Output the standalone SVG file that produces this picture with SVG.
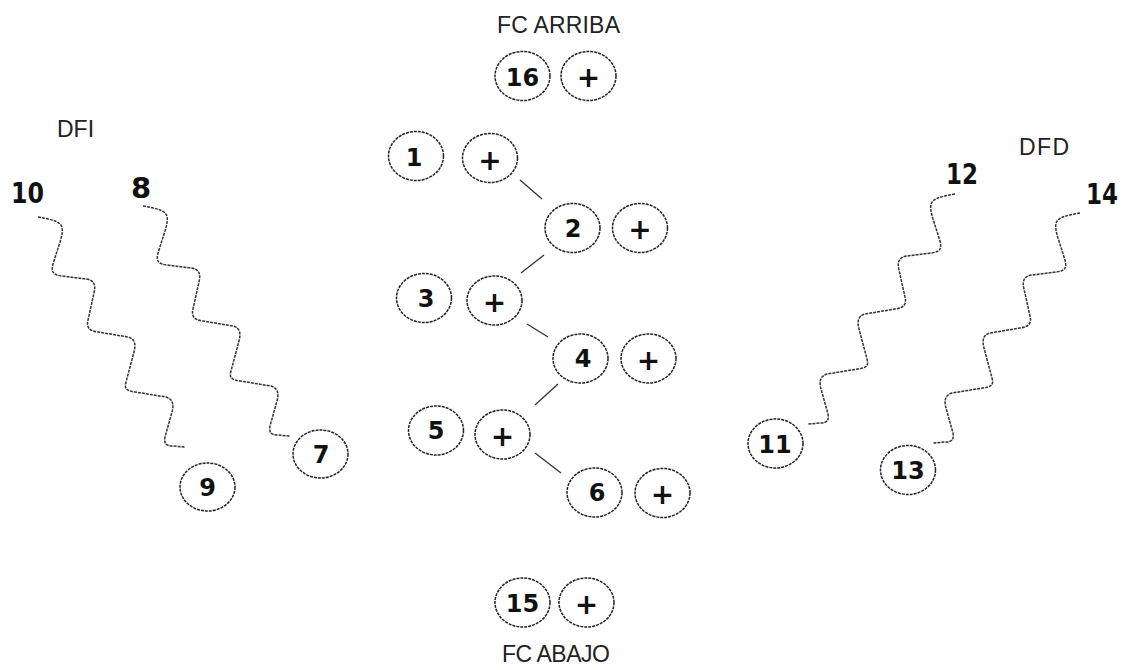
<svg xmlns="http://www.w3.org/2000/svg" xmlns:xlink="http://www.w3.org/1999/xlink" width="1127" height="670" viewBox="0 0 1127 670">
<style>
.e{fill:none;stroke:#222;stroke-width:1.5;stroke-dasharray:3 1}
.n{font-family:"DejaVu Sans",Verdana,sans-serif;font-weight:bold;font-size:24px;fill:#111;text-anchor:middle}
.p{font-family:"DejaVu Sans",Verdana,sans-serif;font-weight:bold;font-size:28px;fill:#111;text-anchor:middle}
.l{font-family:"Liberation Sans",Arial,sans-serif;font-size:23px;fill:#222}
.b{font-family:"DejaVu Sans",Verdana,sans-serif;font-weight:bold;font-size:29px;fill:#111}
.w{fill:none;stroke:#333;stroke-width:1.5;stroke-dasharray:3 1}
.c{stroke:#333;stroke-width:1.3}
</style>
<defs>
<path id="wave" d="M0,0 C10,2 18,3 22,7 C26,11 24,18 22,25 L15,47 C13,55 15,58 24,59 L48,62 C56,63 58,68 56,76 L50,103 C48,111 52,114 60,115 L90,120 C97,122 98,127 96,135 L88,165 C86,172 89,174 97,175 L128,180 C135,182 136,188 134,195 L127,220 C126,227 128,229 135,229 L147,230"/>
</defs>
<rect width="1127" height="670" fill="#fff"/>
<g id="labels">
<text class="l" x="497" y="33" textLength="123" lengthAdjust="spacing">FC ARRIBA</text>
<text class="l" x="502" y="662" textLength="108" lengthAdjust="spacing">FC ABAJO</text>
<text class="l" x="57" y="137" style="font-size:23px">DFI</text>
<text class="l" x="1019" y="155" style="font-size:23px" textLength="50" lengthAdjust="spacing">DFD</text>
<text class="b" x="11" y="203" textLength="33" lengthAdjust="spacingAndGlyphs">10</text>
<text class="b" x="131" y="198">8</text>
<text class="b" x="946" y="184" textLength="32" lengthAdjust="spacingAndGlyphs">12</text>
<text class="b" x="1086" y="204" textLength="32" lengthAdjust="spacingAndGlyphs">14</text>
</g>
<g id="connectors">
<line class="c" x1="520" y1="180" x2="542" y2="199"/>
<line class="c" x1="544" y1="255" x2="521" y2="273"/>
<line class="c" x1="527" y1="324" x2="548" y2="337"/>
<line class="c" x1="558" y1="384" x2="535" y2="405"/>
<line class="c" x1="535" y1="453" x2="561" y2="473"/>
<use xlink:href="#wave" class="w" transform="translate(143,206)"/>
<use xlink:href="#wave" class="w" transform="translate(38,217)"/>
<use xlink:href="#wave" class="w" transform="translate(955,194) scale(-1,1)"/>
<use xlink:href="#wave" class="w" transform="translate(1080,213) scale(-1,1)"/>
</g>
<g id="node16"><ellipse class="e" cx="522.5" cy="76" rx="27.5" ry="24.5"/><text class="n" x="522.5" y="86">16</text></g>
<g id="plus16"><ellipse class="e" cx="588.5" cy="76" rx="27.5" ry="24.5"/><text class="p" x="588.5" y="87">+</text></g>
<g id="node1"><ellipse class="e" cx="416" cy="156" rx="27.5" ry="24.5"/><text class="n" x="414" y="166">1</text></g>
<g id="plus1"><ellipse class="e" cx="490" cy="158" rx="27.5" ry="24.5"/><text class="p" x="490" y="170">+</text></g>
<g id="node2"><ellipse class="e" cx="572.5" cy="228" rx="27.5" ry="24.5"/><text class="n" x="573" y="237">2</text></g>
<g id="plus2"><ellipse class="e" cx="640" cy="228" rx="27.5" ry="24.5"/><text class="p" x="640" y="239">+</text></g>
<g id="node3"><ellipse class="e" cx="424" cy="298" rx="27.5" ry="24.5"/><text class="n" x="426" y="307">3</text></g>
<g id="plus3"><ellipse class="e" cx="494.5" cy="300.5" rx="27.5" ry="24.5"/><text class="p" x="494.5" y="312">+</text></g>
<g id="node4"><ellipse class="e" cx="580.5" cy="358.5" rx="27.5" ry="24.5"/><text class="n" x="583" y="367">4</text></g>
<g id="plus4"><ellipse class="e" cx="648.5" cy="358.5" rx="27.5" ry="24.5"/><text class="p" x="648.5" y="370">+</text></g>
<g id="node5"><ellipse class="e" cx="436" cy="430.5" rx="27.5" ry="24.5"/><text class="n" x="436" y="439">5</text></g>
<g id="plus5"><ellipse class="e" cx="502.5" cy="434.5" rx="27.5" ry="24.5"/><text class="p" x="502.5" y="446">+</text></g>
<g id="node6"><ellipse class="e" cx="594.5" cy="492.5" rx="27.5" ry="24.5"/><text class="n" x="597" y="501">6</text></g>
<g id="plus6"><ellipse class="e" cx="662.5" cy="493" rx="27.5" ry="24.5"/><text class="p" x="662.5" y="504">+</text></g>
<g id="node15"><ellipse class="e" cx="522.5" cy="602.5" rx="27.5" ry="24.5"/><text class="n" x="522.5" y="612">15</text></g>
<g id="plus15"><ellipse class="e" cx="586.5" cy="602.5" rx="27.5" ry="24.5"/><text class="p" x="586.5" y="614">+</text></g>
<g id="node7"><ellipse class="e" cx="320.5" cy="454" rx="27.5" ry="24"/><text class="n" x="321" y="463">7</text></g>
<g id="node9"><ellipse class="e" cx="207.5" cy="487" rx="27.5" ry="24"/><text class="n" x="207.5" y="496">9</text></g>
<g id="node11"><ellipse class="e" cx="775.5" cy="443.5" rx="27.5" ry="24.5"/><text class="n" x="775" y="453">11</text></g>
<g id="node13"><ellipse class="e" cx="908" cy="470" rx="27.5" ry="24.5"/><text class="n" x="908" y="479">13</text></g>
</svg>
